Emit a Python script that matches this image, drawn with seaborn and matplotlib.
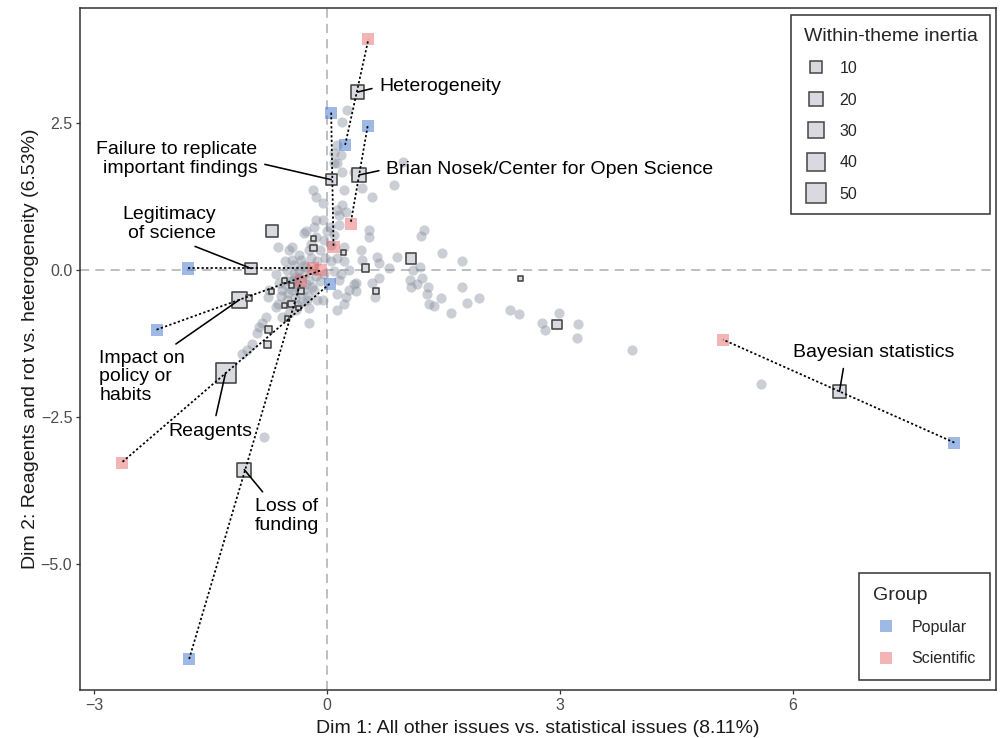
import numpy as np
import pandas as pd
import matplotlib
matplotlib.use("Agg")
import matplotlib.pyplot as plt
from matplotlib.lines import Line2D
import seaborn as sns

# ---------------------------------------------------------------------------
# Data
# ---------------------------------------------------------------------------
# Word coordinates on the first two dimensions (grey cloud)
cloud_x = [3.92, 5.59, 2.98, 2.77, 2.81, 3.23, 3.22, 2.35, 2.47, 1.96, 1.80, 1.59,
           1.47, 1.37, 1.31, 1.73, 1.74, 1.48, 1.21, 1.25, 0.90, 1.10, 1.06, 1.15,
           1.22, 1.28, 1.08, 1.30, 0.43, 0.64, 0.67, 0.80, 1.19, 0.67, 0.58, 0.35,
           0.37, 0.28, 0.61, 0.22, 0.12, 0.45, 0.54, 0.97, 0.86, 0.58, 0.45, 0.22,
           -0.19, -0.06, -0.14, 0.13, 0.09, 0.19, 0.12, 0.24, 0.15, -0.06, -0.14, -0.17,
           0.03, 0.15, 0.54, -0.30, -0.45, 0.22, -0.64, -0.49, -0.45, -0.27, -0.14, -0.23,
           -0.34, -0.52, -0.66, -0.62, -0.75, -0.66, -0.49, -0.23, 0.12, 0.24, 0.37, -0.06,
           -0.88, -0.79, -0.91, -0.84, -0.77, -0.97, -1.10, -1.03, -0.59, -0.64, -0.81,
           -0.43, -0.36, -0.30, -0.23, -0.39, -0.46, -0.30, -0.17, -0.10, -0.04, -0.13, -0.21,
           -0.36, -0.55, -0.41, -0.26, -0.52, -0.13, -0.58, -0.03, 0.05, 0.09, 0.15, -0.36,
           -0.43, -0.19, -0.30, -0.53, -0.23, -0.40, -0.04, 0.05, -0.10, 0.09, -0.01, -0.21,
           0.13, 0.22, 0.28, 0.18, -0.40, -0.35, -0.28, -0.45, -0.32, -0.50, -0.25, -0.38,
           -0.55, -0.20, -0.15, -0.28, -0.42, -0.60, -0.48, 0.26, 0.19, 0.12, 0.18, 0.09,
           0.19, 0.35]
cloud_y = [-1.36, -1.94, -0.73, -0.90, -1.02, -0.93, -1.17, -0.68, -0.75, -0.49, -0.56, -0.73,
           -0.48, -0.61, -0.58, -0.29, 0.15, 0.29, 0.58, 0.68, 0.22, 0.00, -0.17, -0.25,
           -0.14, -0.42, -0.29, -0.29, 0.34, 0.22, 0.12, 0.03, 0.05, -0.15, -0.22, -0.24,
           -0.37, -0.34, -0.46, -0.58, -0.42, 0.17, 0.56, 1.83, 1.44, 1.24, 1.39, 1.36,
           1.36, 1.14, 1.24, 1.82, 1.99, 1.10, 1.02, 0.98, 0.93, 0.85, 0.85, 0.73,
           0.73, 0.76, 0.68, 0.63, 0.39, 0.39, 0.39, 0.34, 0.17, 0.65, 0.56, 0.34,
           0.17, 0.00, -0.08, -0.22, -0.34, -0.63, -0.73, -0.90, -0.68, -0.46, -0.22, -0.51,
           -0.97, -0.80, -1.07, -0.90, -0.46, -1.27, -1.44, -1.36, -0.81, -0.59, -2.85,
           0.08, 0.00, -0.08, -0.17, -0.25, -0.34, -0.34, -0.34, -0.20, -0.08, 0.14, 0.20,
           0.25, 0.14, -0.48, -0.51, -0.51, -0.51, -0.34, 0.20, 0.14, -0.03, -0.17, -0.14,
           -0.08, 0.00, 0.08, -0.17, -0.65, -0.68, 0.51, 0.42, 0.34, 0.59, 0.65, 0.44,
           0.20, 0.14, 0.00, -0.08, -0.30, -0.40, -0.25, -0.20, -0.55, -0.40, -0.45, -0.60,
           -0.25, -0.30, -0.10, 0.05, -0.12, -0.45, -0.58, 2.72, 2.51, 2.12, 1.95, 1.82,
           1.66, 1.66]

# Labelled themes: centroid, inertia and the two group profiles
theme_names = ["Heterogeneity",
               "Failure to replicate\nimportant findings",
               "Brian Nosek/Center for Open Science",
               "Legitimacy\nof science",
               "Impact on\npolicy or\nhabits",
               "Reagents",
               "Loss of\nfunding",
               "Bayesian statistics"]
theme_x = [0.39, 0.05, 0.41, -0.98, -1.13, -1.31, -1.07, 6.60]
theme_y = [3.02, 1.53, 1.61, 0.02, -0.51, -1.75, -3.40, -2.07]
theme_inertia = [17, 10, 17, 11.6, 25.8, 48, 19.5, 17]
popular_x = [0.23, 0.05, 0.52, -1.79, -2.20, 0.03, -1.78, 8.08]
popular_y = [2.12, 2.67, 2.44, 0.02, -1.02, -0.24, -6.62, -2.94]
scientific_x = [0.53, 0.08, 0.30, -0.18, -0.08, -2.65, -0.34, 5.10]
scientific_y = [3.92, 0.39, 0.78, 0.02, -0.01, -3.28, -0.20, -1.19]

# Remaining themes (unlabelled)
other_x = [-0.71, -0.18, -0.18, 0.21, 0.49, 1.08, 0.63, -0.55, -0.46, -0.34,
           -1.01, -0.72, -0.46, -0.55, -0.37, -0.52, -0.76, -0.77, 2.49, 2.96]
other_y = [0.66, 0.53, 0.37, 0.29, 0.03, 0.19, -0.36, -0.19, -0.27, -0.36,
           -0.48, -0.37, -0.58, -0.61, -0.65, -0.83, -1.02, -1.27, -0.15, -0.93]
other_inertia = [10.7, 0.2, 1.4, 0.2, 2.5, 8.2, 0.6, 0.2, 0.2, 0.6,
                 0.6, 0.2, 1.4, 0.6, 0.2, 0.2, 1.4, 2.5, 0.6, 5.9]

legend_inertia = [10, 20, 30, 40, 50]
group_names = ["Popular", "Scientific"]

# ---------------------------------------------------------------------------
# Style
# ---------------------------------------------------------------------------
GROUP_COLORS = {"Popular": "#3f74cc", "Scientific": "#e66a6a"}
THEME_FILL = "#d8dae0"
THEME_EDGE = "#444444"
CLOUD_COLOR = "#868c9c"
REF_COLOR = "#a9adb5"
FRAME_COLOR = "#333333"


def inertia_area(v):
    """Marker area (pt^2): side grows with the square root of inertia."""
    side = 2.66 + 1.71 * np.sqrt(v)
    return side ** 2


sns.set_theme(style="white")
plt.rcParams["font.family"] = ["Liberation Sans", "DejaVu Sans"]

fig = plt.figure(figsize=(10, 7.38), dpi=100)
ax = fig.add_axes([0.080, 0.065, 0.916, 0.924])

# Axis limits with 5% padding around all plotted points
all_x = np.concatenate([cloud_x, theme_x, popular_x, scientific_x, other_x])
all_y = np.concatenate([cloud_y, theme_y, popular_y, scientific_y, other_y])
rx, ry = np.ptp(all_x), np.ptp(all_y)
ax.set_xlim(all_x.min() - 0.05 * rx, all_x.max() + 0.05 * rx)
ax.set_ylim(all_y.min() - 0.05 * ry, all_y.max() + 0.05 * ry)

# Reference lines through the origin
ax.axhline(0, color=REF_COLOR, lw=1.1, dashes=(6, 4), zorder=0)
ax.axvline(0, color=REF_COLOR, lw=1.1, dashes=(6, 4), zorder=0)

# Word cloud
sns.scatterplot(x=cloud_x, y=cloud_y, color=CLOUD_COLOR, alpha=0.42, s=54,
                linewidth=0, legend=False, ax=ax, zorder=1)

# Group profiles of the labelled themes
groups = pd.DataFrame({
    "x": popular_x + scientific_x,
    "y": popular_y + scientific_y,
    "group": ["Popular"] * len(popular_x) + ["Scientific"] * len(scientific_x),
})
sns.scatterplot(data=groups, x="x", y="y", hue="group", palette=GROUP_COLORS,
                marker="s", s=75, alpha=0.5, linewidth=0, legend=False,
                ax=ax, zorder=2)

# Theme centroids sized by within-theme inertia
themes = pd.DataFrame({
    "x": theme_x + other_x,
    "y": theme_y + other_y,
    "inertia": theme_inertia + other_inertia,
})
size_map = {v: inertia_area(v) for v in themes["inertia"].unique()}
sns.scatterplot(data=themes, x="x", y="y", size="inertia", sizes=size_map,
                marker="s", color=THEME_FILL, edgecolor=THEME_EDGE,
                linewidth=1.15, legend=False, ax=ax, zorder=3)

# Dotted segments joining the two group profiles of each labelled theme
for px, py, sx, sy in zip(popular_x, popular_y, scientific_x, scientific_y):
    ax.plot([px, sx], [py, sy], color="black", lw=1.25,
            ls=(0, (1.3, 1.3)), zorder=4)

# Theme labels with leader lines
label_layout = [
    # (text x, text y, ha, relpos)
    (0.67, 3.11, "left", (0.0, 0.5)),
    (-0.90, 1.88, "right", (1.0, 0.4)),
    (0.76, 1.71, "left", (0.0, 0.5)),
    (-1.44, 0.78, "right", (0.65, 0.0)),
    (-2.94, -1.82, "left", (0.8, 1.0)),
    (-1.51, -2.75, "center", (0.55, 1.0)),
    (-0.93, -4.19, "left", (0.2, 1.0)),
    (7.04, -1.41, "center", (0.32, 0.0)),
]
for name, tx, ty, (lx, ly, ha, rel) in zip(theme_names, theme_x, theme_y, label_layout):
    ax.annotate(name, xy=(tx, ty), xytext=(lx, ly), ha=ha, va="center",
                multialignment=ha,
                fontsize=14.0, color="black", linespacing=1.12, zorder=6,
                arrowprops=dict(arrowstyle="-", color="black", lw=1.15,
                                shrinkA=3, shrinkB=0, relpos=rel))

# Axes decoration
ax.set_xticks([-3, 0, 3, 6])
ax.set_yticks([2.5, 0.0, -2.5, -5.0])
ax.set_yticklabels(["2.5", "0.0", "\u22122.5", "\u22125.0"])
ax.tick_params(axis="both", which="major", length=3, width=0.9,
               color=FRAME_COLOR, labelsize=11.5, labelcolor="#4d4d4d",
               pad=2.5, bottom=True, left=True)
for sp in ax.spines.values():
    sp.set_color(FRAME_COLOR)
    sp.set_linewidth(1.1)
ax.set_xlabel("Dim 1: All other issues vs. statistical issues (8.11%)",
              fontsize=14, color="#1a1a1a", labelpad=5)
ax.set_ylabel("Dim 2: Reagents and rot vs. heterogeneity (6.53%)",
              fontsize=14, color="#1a1a1a", labelpad=1.5)
ax.grid(False)

# Legends
size_handles = [Line2D([], [], marker="s", ls="", markersize=np.sqrt(inertia_area(v)),
                       markerfacecolor=THEME_FILL, markeredgecolor=THEME_EDGE,
                       markeredgewidth=1.1) for v in legend_inertia]
leg1 = ax.legend(size_handles, [str(v) for v in legend_inertia],
                 title="Within-theme inertia", loc="upper right",
                 bbox_to_anchor=(0.9934, 0.9897), borderaxespad=0,
                 frameon=True, fancybox=False, edgecolor=FRAME_COLOR,
                 framealpha=1, fontsize=11.5, title_fontsize=14,
                 alignment="left", borderpad=0.78, labelspacing=1.03,
                 handlelength=1.6, handletextpad=0.65)
leg1.get_frame().set_linewidth(1.1)
ax.add_artist(leg1)

group_handles = [Line2D([], [], marker="s", ls="", markersize=np.sqrt(75),
                        markerfacecolor=GROUP_COLORS[g], markeredgewidth=0,
                        alpha=0.5) for g in group_names]
leg2 = ax.legend(group_handles, group_names, title="Group", loc="lower right",
                 bbox_to_anchor=(0.9934, 0.0147), borderaxespad=0,
                 frameon=True, fancybox=False, edgecolor=FRAME_COLOR,
                 framealpha=1, fontsize=11.5, title_fontsize=14,
                 alignment="left", borderpad=0.87, labelspacing=1.02,
                 handlelength=1.6, handletextpad=0.8)
leg2.get_frame().set_linewidth(1.1)

fig.savefig("out.png", dpi=100)
